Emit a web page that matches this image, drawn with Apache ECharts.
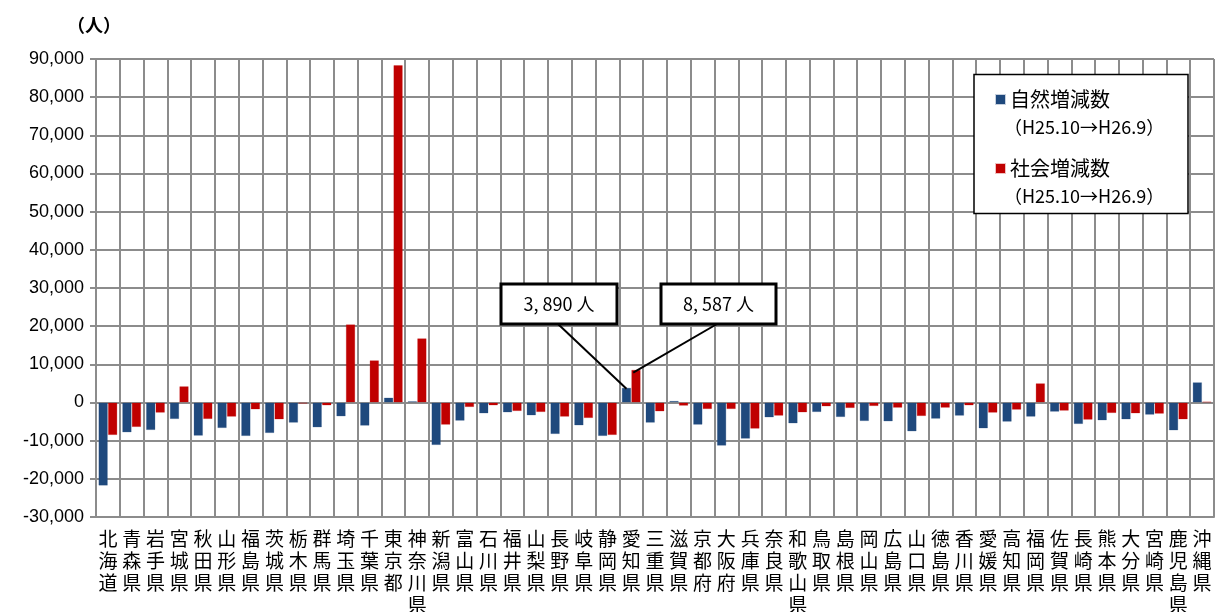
<!DOCTYPE html>
<html>
<head>
<meta charset="utf-8">
<script src="https://cdn.jsdelivr.net/npm/echarts@6/dist/echarts.min.js"></script>
<style>
html,body{margin:0;padding:0;background:#fff;}
#c{width:1215px;height:612px;}
</style>
</head>
<body>
<div id="c"></div>
<script>
const categories = ['北海道','青森県','岩手県','宮城県','秋田県','山形県','福島県','茨城県','栃木県','群馬県','埼玉県','千葉県','東京都','神奈川県','新潟県','富山県','石川県','福井県','山梨県','長野県','岐阜県','静岡県','愛知県','三重県','滋賀県','京都府','大阪府','兵庫県','奈良県','和歌山県','鳥取県','島根県','岡山県','広島県','山口県','徳島県','香川県','愛媛県','高知県','福岡県','佐賀県','長崎県','熊本県','大分県','宮崎県','鹿児島県','沖縄県'];
const naturalChange = [-21800,-7850,-7240,-4360,-8730,-6720,-8810,-8030,-5320,-6540,-3660,-6100,1310,350,-11170,-4800,-2880,-2620,-3400,-8290,-6020,-8810,3890,-5320,440,-5850,-11340,-9510,-3930,-5500,-2530,-3840,-4890,-4970,-7590,-4280,-3490,-6810,-5060,-3750,-2440,-5670,-4710,-4450,-3230,-7330,5320];
const socialChange = [-8550,-6450,-2700,4280,-4360,-3750,-1830,-4450,-300,-790,20500,11080,88400,16840,-5850,-1220,-790,-2270,-2530,-3750,-4100,-8550,8587,-2360,-870,-1750,-1750,-6890,-3490,-2620,-1050,-1480,-960,-1400,-3580,-1400,-790,-2700,-1920,5060,-2180,-4540,-2790,-2880,-2970,-4450,260];
const seriesNames = ['自然増減数','社会増減数'];
const periodLabel = '（H25.10→H26.9）';
const yTicks = {min:-30000, max:90000, interval:10000};
const callouts = [
  {series:0, index:22, text:'3, 890 人'},
  {series:1, index:22, text:'8, 587 人'}
];

const chart = echarts.init(document.getElementById('c'));
const jp = '"Noto Sans CJK JP", sans-serif';
const lat = '"Liberation Sans", Arial, sans-serif';
const gridColor = '#8c8c8c';

const option = {
  animation:false,
  backgroundColor:'#fff',
  title:{text:'（人）', left:62, top:11, textStyle:{fontFamily:jp, fontSize:18, fontWeight:'bold', color:'#000'}},
  grid:{left:96, right:1, top:59, bottom:95, containLabel:false, outerBoundsMode:'none'},
  legend:{
    orient:'vertical', left:995, top:86, padding:0,
    itemWidth:9, itemHeight:9, icon:'rect', itemGap:42, z:6,
    data:seriesNames,
    textStyle:{fontFamily:jp, fontSize:20, lineHeight:27, color:'#000', padding:[0,0,0,0]}
  },
  xAxis:{
    type:'category', data:categories,
    axisLine:{onZero:false, lineStyle:{color:gridColor, width:2}},
    axisTick:{show:false},
    splitLine:{show:true, lineStyle:{color:gridColor, width:2}},
    axisLabel:{interval:0, margin:11, fontFamily:jp, fontSize:19, lineHeight:22, color:'#000',
      formatter: v => v.split('').join('\n')}
  },
  yAxis:{
    type:'value', min:yTicks.min, max:yTicks.max, interval:yTicks.interval,
    axisLine:{show:true, lineStyle:{color:gridColor, width:2}},
    axisTick:{show:true, length:6, lineStyle:{color:gridColor, width:2}},
    splitLine:{show:true, lineStyle:{color:gridColor, width:2}},
    axisLabel:{fontFamily:lat, fontSize:18, color:'#000', margin:12,
      formatter: v => v.toLocaleString('en-US')}
  },
  series:[
    {name:seriesNames[0], type:'bar', data:naturalChange, barGap:'0%', barCategoryGap:'20%',
      itemStyle:{color:'#1f497d', borderColor:'rgba(31,73,125,0.25)', borderWidth:1}},
    {name:seriesNames[1], type:'bar', data:socialChange,
      itemStyle:{color:'#c00000', borderColor:'rgba(192,0,0,0.25)', borderWidth:1}}
  ]
};
chart.setOption(option);

function drawExtras(){
  const p0 = chart.convertToPixel({xAxisIndex:0, yAxisIndex:0}, [0, 0]);
  const p1 = chart.convertToPixel({xAxisIndex:0, yAxisIndex:0}, [1, 0]);
  const band = p1[0] - p0[0];
  const bw = band * 0.8 / 2;
  const boxes = [
    {x:501, y:284, w:116, h:40, ax:558},
    {x:661, y:284, w:115, h:40, ax:717}
  ];
  const els = [
    {type:'rect', shape:{x:974, y:74.5, width:214, height:139}, style:{fill:'#fff', stroke:'#000', lineWidth:1.5}, z:3},
    {type:'text', x:1004, y:127, style:{text:periodLabel, fontFamily:jp, fontSize:18, fill:'#000', verticalAlign:'middle'}, z:6},
    {type:'text', x:1004, y:196, style:{text:periodLabel, fontFamily:jp, fontSize:18, fill:'#000', verticalAlign:'middle'}, z:6}
  ];
  callouts.forEach((c, i) => {
    const arr = c.series === 0 ? naturalChange : socialChange;
    const pt = chart.convertToPixel({xAxisIndex:0, yAxisIndex:0}, [c.index, arr[c.index]]);
    const b = boxes[i];
    const endX = c.series === 0 ? pt[0] - bw/2 : pt[0] + 2;
    const endY = pt[1] + (c.series === 0 ? 1 : 3);
    els.push({type:'line', shape:{x1:b.ax, y1:b.y + b.h, x2:endX, y2:endY}, style:{stroke:'#000', lineWidth:2}, z:5});
    els.push({type:'rect', shape:{x:b.x, y:b.y, width:b.w, height:b.h}, style:{fill:'#fff', stroke:'#000', lineWidth:3}, z:5});
    els.push({type:'text', x:b.x + b.w/2, y:b.y + b.h/2, style:{text:c.text, fontFamily:jp, fontSize:18, fill:'#000', align:'center', verticalAlign:'middle'}, z:6});
  });
  chart.setOption({graphic:{elements:els}});
}
drawExtras();
</script>
</body>
</html>
